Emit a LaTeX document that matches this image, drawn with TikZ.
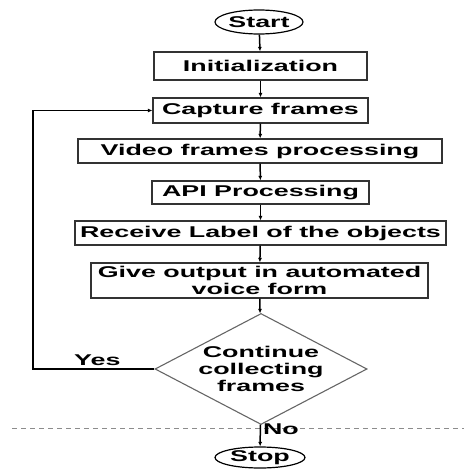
\documentclass[tikz,border=0pt]{standalone}
\usepackage{fontspec}
\setmainfont[FakeStretch=1.72]{Liberation Sans}
\usetikzlibrary{shapes.geometric,arrows.meta}

\tikzset{
  every node/.style={font=\fontsize{15.6}{17}\selectfont\bfseries},
  stepbox/.style={draw=black!80,line width=1.2pt,minimum height=24pt,inner sep=0pt},
  terminal/.style={ellipse,draw=black,line width=1.2pt,minimum width=88pt,minimum height=24pt,inner sep=0pt},
  decision/.style={diamond,draw=black!60,line width=1.1pt,aspect=1.91,inner sep=0pt,align=center},
  flow/.style={line width=1.5pt,-{Latex[length=4.5pt,width=4pt]}}
}

\begin{document}
\begin{tikzpicture}[x=1pt,y=-1pt]
    \useasboundingbox (0,0) rectangle (464,469);
    \node[terminal] (start) at (259,22) {Start};
    \node[stepbox,minimum width=213pt,minimum height=28pt] (init) at (260.5,66) {Initialization};
    \node[stepbox,minimum width=215pt,minimum height=25pt] (capture) at (260.5,110.5) {Capture frames};
    \node[stepbox,minimum width=364pt] (video) at (260,151) {Video frames processing};
    \node[stepbox,minimum width=217pt,minimum height=23pt] (api) at (260.5,192.5) {API Processing};
    \node[stepbox,minimum width=371pt] (receive) at (260.5,233) {Receive Label of the objects};
    \node[stepbox,minimum width=337pt,minimum height=35pt,align=center] (give) at (259.5,280.5) {Give output in automated\\voice form};
    \node[decision] (cont) at (261,369) {Continue\\collecting\\frames};
    \node[terminal,minimum width=90pt,minimum height=21pt] (stop) at (260,457.5) {Stop};
    \coordinate (bend1) at (33,369);
    \coordinate (bend2) at (33,110.5);
    \draw[black!45,line width=0.8pt,dash pattern=on 5pt off 4pt] (12,428) -- (464,428);
    \draw[flow] (start) -- (init);
    \draw[flow] (init) -- (capture);
    \draw[flow] (capture) -- (video);
    \draw[flow] (video) -- (api);
    \draw[flow] (api) -- (receive);
    \draw[flow] (receive) -- (give);
    \draw[flow] (give) -- (cont);
    \draw[flow] (cont) -- (stop) node[pos=0.2,right,inner sep=2pt] {No};
    \draw[flow] (cont.west) -- (bend1) node[pos=0.47,above,inner sep=3pt] {Yes} -- (bend2) -- (capture.west);
\end{tikzpicture}
\end{document}
